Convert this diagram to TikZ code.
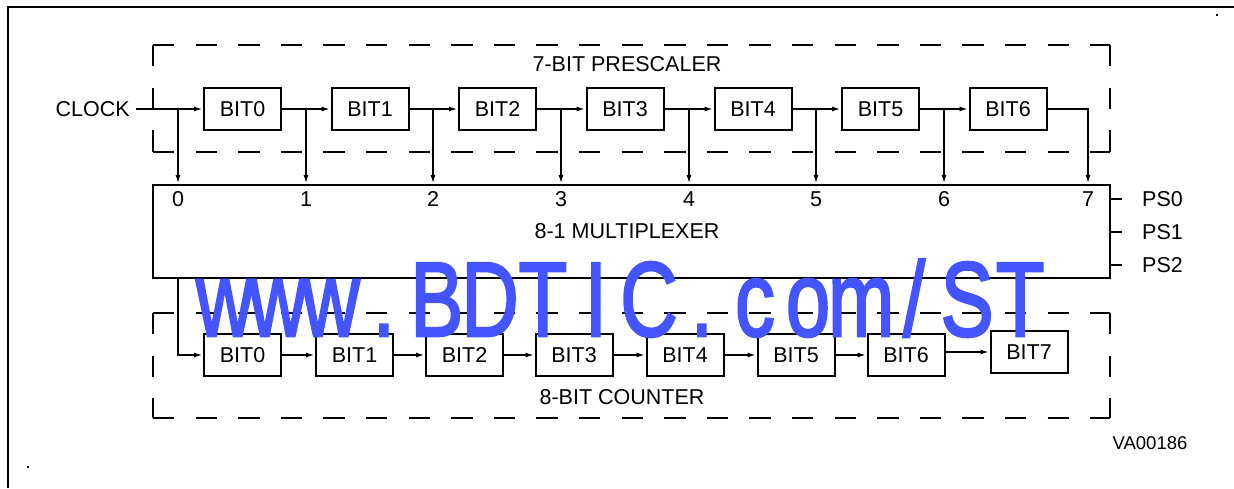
\documentclass[tikz,border=0pt]{standalone}
\usepackage{fontspec}
\setmainfont{Liberation Sans}
\newfontfamily\wmfont[FakeBold=2.5]{Liberation Sans}
\usetikzlibrary{arrows.meta}
\definecolor{wmblue}{RGB}{68,85,255}
\newcommand{\wmch}[1]{\makebox[70.7pt][c]{#1}}
\begin{document}
\begin{tikzpicture}[x=1pt,y=-1pt,
  lbl/.style={font=\fontsize{21.5}{24}\selectfont, inner sep=0pt},
  bitbox/.style={draw, line width=2pt, minimum width=77pt, minimum height=42pt, inner sep=0pt, font=\fontsize{21.5}{24}\selectfont},
  wire/.style={line width=2pt},
  arr/.style={line width=2pt, -{Latex[length=9pt,width=5pt]}},
  dashedge/.style={line width=2.2pt, dash pattern=on 21.3pt off 21.3pt},
  dotmark/.style={fill=black, inner sep=0pt, minimum size=2.5pt, rectangle},
]
\useasboundingbox (0,0) rectangle (1234,488);

% outer frame (left and top only)
\coordinate (fbl) at (8,488);
\coordinate (ftl) at (8,7);
\coordinate (ftr) at (1234,7);
\draw[wire] (fbl) -- (ftl) -- (ftr);
\node[dotmark] (dotA) at (1217,15) {};
\node[dotmark] (dotB) at (28,467) {};

% prescaler dashed box
\coordinate (pa) at (153,45);
\coordinate (pb) at (1110,45);
\coordinate (pc) at (1110,152);
\coordinate (pd) at (153,152);
\draw[dashedge] (pa) -- (pb);
\draw[dashedge] (pd) -- (pc);
\draw[dashedge] (pa) -- (pd);
\draw[dashedge] (pb) -- (pc);
\node[lbl] (ptitle) at (627,64) {7-BIT PRESCALER};

% counter dashed box
\coordinate (ca) at (153,313);
\coordinate (cb) at (1110,313);
\coordinate (cc) at (1110,418);
\coordinate (cd) at (153,418);
\draw[dashedge] (ca) -- (cb);
\draw[dashedge] (cd) -- (cc);
\draw[dashedge] (ca) -- (cd);
\draw[dashedge] (cb) -- (cc);
\node[lbl] (ctitle) at (622,397) {8-BIT COUNTER};

% multiplexer
\node[draw, line width=2pt, minimum width=957pt, minimum height=93pt, inner sep=0pt] (mux) at (631.5,231.5) {};
\node[lbl] (muxlbl) at (627,231) {8-1 MULTIPLEXER};

% prescaler bits
\node[bitbox] (p0) at (242.5,109) {BIT0};
\node[bitbox] (p1) at (370,109) {BIT1};
\node[bitbox] (p2) at (497.5,109) {BIT2};
\node[bitbox] (p3) at (625,109) {BIT3};
\node[bitbox] (p4) at (753,109) {BIT4};
\node[bitbox] (p5) at (880.5,109) {BIT5};
\node[bitbox] (p6) at (1008,109) {BIT6};

\node[lbl, anchor=east] (clk) at (130,109) {CLOCK};

% taps
\coordinate (t0) at (178,109);
\coordinate (t1) at (306,109);
\coordinate (t2) at (433,109);
\coordinate (t3) at (561,109);
\coordinate (t4) at (689,109);
\coordinate (t5) at (816,109);
\coordinate (t6) at (944,109);
\coordinate (t7) at (1088,109);

\draw[arr] ([xshift=6pt]clk.east) -- (p0.west);
\draw[arr] (p0.east) -- (p1.west);
\draw[arr] (p1.east) -- (p2.west);
\draw[arr] (p2.east) -- (p3.west);
\draw[arr] (p3.east) -- (p4.west);
\draw[arr] (p4.east) -- (p5.west);
\draw[arr] (p5.east) -- (p6.west);
\draw[arr] (p6.east) -| (t7 |- mux.north);
\foreach \i in {0,...,6} {
  \draw[arr] (t\i) -- (t\i |- mux.north);
}

% mux input labels
\foreach \i in {0,...,7} {
  \node[lbl] (in\i) at ([yshift=-15pt]t\i |- mux.north) {\i};
}

% select lines
\foreach \i/\yy in {0/199,1/232,2/265} {
  \coordinate (s\i) at (1110,\yy);
  \draw[wire] (s\i) -- ++(12,0);
  \node[lbl, anchor=west] (ps\i) at (1142,\yy) {PS\i};
}

% counter bits
\node[bitbox] (c0) at (242.5,355) {BIT0};
\node[bitbox] (c1) at (354.5,355) {BIT1};
\node[bitbox] (c2) at (464.5,355) {BIT2};
\node[bitbox] (c3) at (574,355) {BIT3};
\node[bitbox] (c4) at (685,355) {BIT4};
\node[bitbox] (c5) at (796,355) {BIT5};
\node[bitbox] (c6) at (906,355) {BIT6};
\node[bitbox] (c7) at (1029,352) {BIT7};

\coordinate (m0) at (178,278);
\draw[arr] (m0) |- (c0.west);
\draw[arr] (c0.east) -- (c1.west);
\draw[arr] (c1.east) -- (c2.west);
\draw[arr] (c2.east) -- (c3.west);
\draw[arr] (c3.east) -- (c4.west);
\draw[arr] (c4.east) -- (c5.west);
\draw[arr] (c5.east) -- (c6.west);
\draw[arr] (c6.east |- c7.west) -- (c7.west);

\node[font=\fontsize{18.5}{20}\selectfont, inner sep=0pt] (code) at (1150,443) {VA00186};

% watermark
\node[anchor=base, inner sep=0pt, text=wmblue, xscale=0.75,
      font=\wmfont\fontsize{106}{106}\selectfont] (wm) at (622.5,336)
  {\wmch{w}\wmch{w}\wmch{w}\wmch{.}\wmch{B}\wmch{D}\wmch{T}\wmch{I}\wmch{C}\wmch{.}\wmch{c}\wmch{o}\wmch{m}\wmch{/}\wmch{S}\wmch{T}};
\end{tikzpicture}
\end{document}
